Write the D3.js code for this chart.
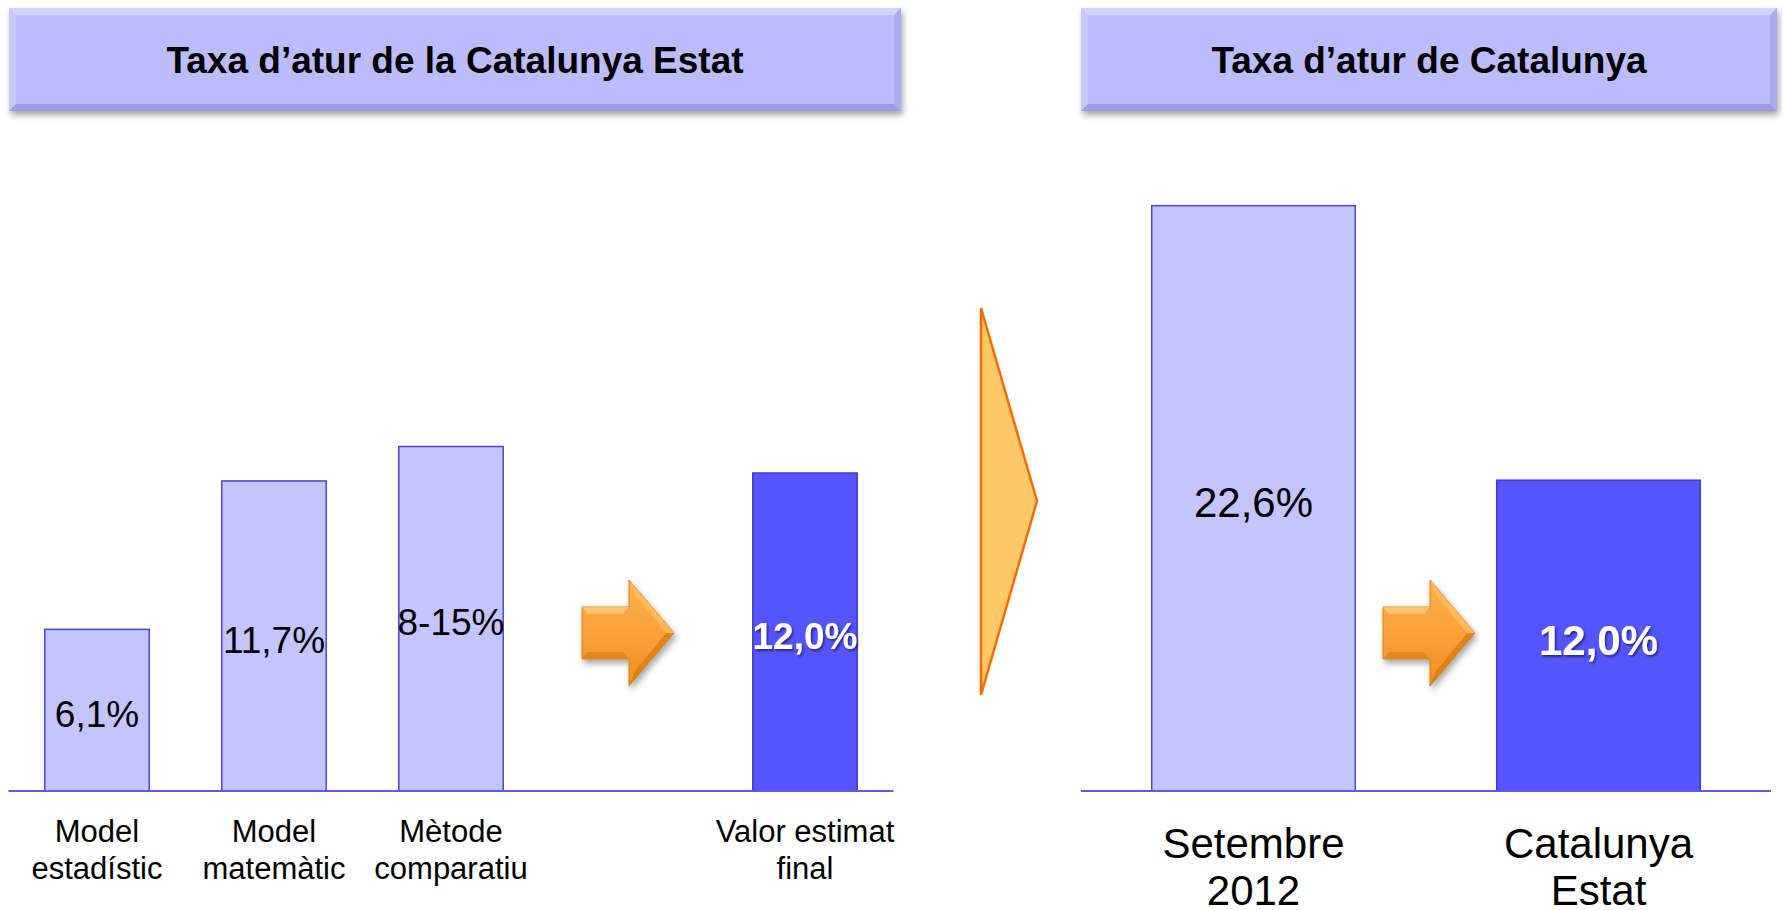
<!DOCTYPE html>
<html>
<head>
<meta charset="utf-8">
<script src="https://cdn.jsdelivr.net/npm/d3@7"></script>
<style>
  body { margin: 0; background: #fff; }
  svg { display: block; font-family: Arial, "Liberation Sans", sans-serif; }
</style>
</head>
<body>
<script>
// ================= Data ======================
const leftTitle = "Taxa d’atur de la Catalunya Estat";
const rightTitle = "Taxa d’atur de Catalunya";

const leftCategories = [["Model", "estadístic"], ["Model", "matemàtic"], ["Mètode", "comparatiu"], ["Valor estimat", "final"]];
const leftValues = [6.1, 11.7, 13.0, 12.0];          // 8-15% drawn at its shown height
const leftLabels = ["6,1%", "11,7%", "8-15%", "12,0%"];
const leftFinal = [false, false, false, true];

const rightCategories = [["Setembre", "2012"], ["Catalunya", "Estat"]];
const rightValues = [22.6, 12.0];
const rightLabels = ["22,6%", "12,0%"];
const rightFinal = [false, true];

// ================== LAYOUT ===========================
const W = 1783, H = 910;
const baseY = 791;

const svg = d3.select("body").append("svg")
  .attr("width", W).attr("height", H);

const defs = svg.append("defs");

const shadow = defs.append("filter").attr("id", "shadow")
  .attr("x", "-10%").attr("y", "-20%").attr("width", "130%").attr("height", "160%");
shadow.append("feDropShadow").attr("dx", 2).attr("dy", 4).attr("stdDeviation", 3)
  .attr("flood-color", "#000").attr("flood-opacity", 0.35);

const textShadow = defs.append("filter").attr("id", "tshadow")
  .attr("x", "-10%").attr("y", "-20%").attr("width", "130%").attr("height", "150%");
textShadow.append("feDropShadow").attr("dx", 1.5).attr("dy", 2).attr("stdDeviation", 1.2)
  .attr("flood-color", "#000").attr("flood-opacity", 0.5);

const orangeGrad = defs.append("linearGradient").attr("id", "orange")
  .attr("x1", 0).attr("y1", 0).attr("x2", 0).attr("y2", 1);
orangeGrad.append("stop").attr("offset", "0%").attr("stop-color", "#FFB24A");
orangeGrad.append("stop").attr("offset", "50%").attr("stop-color", "#FBA03A");
orangeGrad.append("stop").attr("offset", "100%").attr("stop-color", "#F08E22");

// ================== TITLE BOXES ===========================
function titleBox(x, y, w, h, text) {
  const g = svg.append("g").attr("transform", `translate(${x},${y})`);
  const b = 7;
  g.append("rect").attr("width", w).attr("height", h)
    .attr("fill", "#BCBCFD").attr("filter", "url(#shadow)");
  // bevel
  g.append("path").attr("d", `M0,0 L${w},0 L${w - b},${b} L${b},${b} Z`).attr("fill", "#D3D3FF");
  g.append("path").attr("d", `M0,0 L${b},${b} L${b},${h - b} L0,${h} Z`).attr("fill", "#C9C9FF");
  g.append("path").attr("d", `M${w},0 L${w},${h} L${w - b},${h - b} L${w - b},${b} Z`).attr("fill", "#ABABF0");
  g.append("path").attr("d", `M0,${h} L${w},${h} L${w - b},${h - b} L${b},${h - b} Z`).attr("fill", "#9C9CE4");
  g.append("text").attr("x", w / 2).attr("y", h / 2).attr("dy", "0.36em")
    .attr("text-anchor", "middle").attr("font-size", 37).attr("font-weight", "bold")
    .attr("fill", "#000").text(text);
}
titleBox(9, 8, 892, 103, leftTitle);
titleBox(1081, 8, 696, 103, rightTitle);

// ================== ORANGE ARROW ===========================
function blockArrow(cx, cy) {
  const x0 = cx - 46, hx = cx + 1, tx = cx + 46;
  const g = svg.append("g").attr("filter", "url(#shadow)");
  const pts = [[x0, cy - 26], [hx, cy - 26], [hx, cy - 53], [tx, cy], [hx, cy + 53], [hx, cy + 26], [x0, cy + 26]];
  g.append("path").attr("d", d3.line()(pts) + "Z")
    .attr("fill", "url(#orange)").attr("stroke", "#D98118").attr("stroke-width", 1);
  // bevel highlight
  g.append("path").attr("d", `M${x0},${cy - 26} L${hx},${cy - 26} L${hx - 6},${cy - 19} L${x0 + 6},${cy - 19} Z`)
    .attr("fill", "#FFC878").attr("opacity", 0.8);
  g.append("path").attr("d", `M${hx},${cy - 53} L${tx},${cy} L${tx - 8},${cy} L${hx + 6},${cy - 38} Z`)
    .attr("fill", "#FFBE63").attr("opacity", 0.8);
  g.append("path").attr("d", `M${x0},${cy + 26} L${hx},${cy + 26} L${hx - 6},${cy + 19} L${x0 + 6},${cy + 19} Z`)
    .attr("fill", "#D88016").attr("opacity", 0.7);
  g.append("path").attr("d", `M${hx},${cy + 53} L${tx},${cy} L${tx - 8},${cy} L${hx + 6},${cy + 38} Z`)
    .attr("fill", "#D47A12").attr("opacity", 0.7);
}

// ================== BAR PANEL ===========================
function panel(opts) {
  const { slots, categories, values, labels, finals, x0, x1, yTop, valueSize, catSize, catLine, catY } = opts;
  const xScale = d3.scaleBand().domain(slots).range([x0, x1]).paddingInner(0.41).paddingOuter(0.205);
  const yScale = d3.scaleLinear().domain([0, 25]).range([baseY, yTop]);

  const data = categories.map((c, i) => ({ key: c.join(" "), lines: c, v: values[i], label: labels[i], fin: finals[i] }));

  const g = svg.append("g");
  g.selectAll("rect.bar").data(data).join("rect")
    .attr("class", "bar")
    .attr("x", d => xScale(d.key))
    .attr("y", d => yScale(d.v))
    .attr("width", xScale.bandwidth())
    .attr("height", d => baseY - yScale(d.v))
    .attr("fill", d => d.fin ? "#5555FF" : "#C4C4FF")
    .attr("stroke", d => d.fin ? "#3E3EC4" : "#4848D6")
    .attr("stroke-width", 1.5);

  // baseline
  g.append("line").attr("x1", x0).attr("x2", x1).attr("y1", baseY).attr("y2", baseY)
    .attr("stroke", "#5A5AF2").attr("stroke-width", 2.2);

  // value labels
  g.selectAll("text.val").data(data).join("text")
    .attr("class", "val")
    .attr("x", d => xScale(d.key) + xScale.bandwidth() / 2)
    .attr("y", d => (yScale(d.v) + baseY) / 2)
    .attr("dy", "0.45em")
    .attr("text-anchor", "middle")
    .attr("font-size", valueSize)
    .attr("font-weight", d => d.fin ? "bold" : "normal")
    .attr("fill", d => d.fin ? "#fff" : "#000")
    .attr("filter", d => d.fin ? "url(#tshadow)" : null)
    .text(d => d.label);

  // category labels
  const cat = g.selectAll("text.cat").data(data).join("text")
    .attr("class", "cat")
    .attr("text-anchor", "middle")
    .attr("font-size", catSize)
    .attr("fill", "#000");
  cat.selectAll("tspan").data(d => d.lines.map(l => ({ l, x: xScale(d.key) + xScale.bandwidth() / 2 })))
    .join("tspan")
    .attr("x", t => t.x)
    .attr("y", (t, i) => catY + i * catLine)
    .text(t => t.l);

  return { xScale, yScale };
}

// left panel: empty slot before the final value holds the arrow
const leftSlots = leftCategories.map(c => c.join(" "));
leftSlots.splice(3, 0, "arrow");
const left = panel({
  slots: leftSlots, categories: leftCategories, values: leftValues, labels: leftLabels, finals: leftFinal,
  x0: 8.5, x1: 893.5, yTop: baseY - 26.5 * 25, valueSize: 37, catSize: 31, catLine: 37, catY: 842
});
blockArrow(left.xScale("arrow") + left.xScale.bandwidth() / 2, 633);

const right = panel({
  slots: rightCategories.map(c => c.join(" ")), categories: rightCategories, values: rightValues, labels: rightLabels, finals: rightFinal,
  x0: 1081, x1: 1771, yTop: baseY - 25.9 * 25, valueSize: 42, catSize: 42, catLine: 47, catY: 858
});
{
  const a = right.xScale(rightCategories[0].join(" ")) + right.xScale.bandwidth();
  const b = right.xScale(rightCategories[1].join(" "));
  blockArrow((a + b) / 2 + 3, 633);
}

// ================== BIG CONNECTOR ARROW ===========================
svg.append("path")
  .attr("d", d3.line()([[981, 308], [1037, 501], [981, 695]]) + "Z")
  .attr("fill", "#FFCA66").attr("stroke", "#FF6A00").attr("stroke-width", 2.5)
  .attr("stroke-linejoin", "miter");
</script>
</body>
</html>
